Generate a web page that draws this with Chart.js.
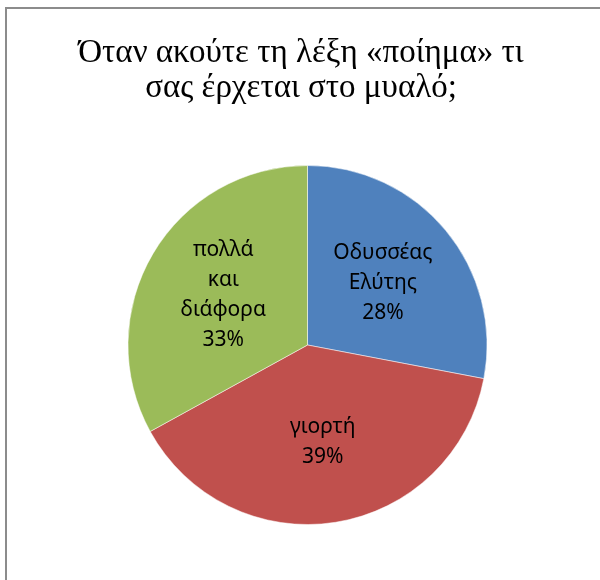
<!DOCTYPE html>
<html>
<head>
<meta charset="utf-8">
<script src="https://cdn.jsdelivr.net/npm/chart.js@4.4.1/dist/chart.umd.min.js"></script>
<style>
  html, body { margin: 0; padding: 0; background: #fff; overflow: hidden; }
  #frame {
    position: absolute; left: 5px; top: 7px;
    width: 640px; height: 640px;
    border: 2px solid #8c8c8c;
  }
  #wrap { position: absolute; left: 0; top: 0; width: 600px; height: 580px; }
</style>
</head>
<body>
<div id="frame"></div>
<div id="wrap"><canvas id="pie" width="600" height="580"></canvas></div>
<script>
const titleLines = ["Όταν ακούτε τη λέξη «ποίημα» τι", "σας έρχεται στο μυαλό;"];
const categories = ["Οδυσσέας Ελύτης", "γιορτή", "πολλά και διάφορα"];
const labelLines = [["Οδυσσέας", "Ελύτης"], ["γιορτή"], ["πολλά", "και", "διάφορα"]];
const values = [28, 39, 33];
const colors = ["#4F81BD", "#C0504D", "#9BBB59"];

// title drawn by hand so it can sit a little left of the pie centre
const chartTitle = {
  id: "chartTitle",
  afterDraw(chart) {
    const ctx = chart.ctx;
    ctx.save();
    ctx.font = "33px 'Liberation Serif'";
    ctx.fillStyle = "#000";
    ctx.textAlign = "center";
    ctx.textBaseline = "alphabetic";
    titleLines.forEach((t, i) => ctx.fillText(t, 301, 62 + i * 35));
    ctx.restore();
  }
};

// writes category name + percentage inside each slice
const sliceLabels = {
  id: "sliceLabels",
  afterDatasetsDraw(chart) {
    const ctx = chart.ctx;
    const meta = chart.getDatasetMeta(0);
    const total = values.reduce((a, b) => a + b, 0);
    ctx.save();
    ctx.font = "21px 'Noto Sans'";
    ctx.fillStyle = "#000";
    ctx.textAlign = "center";
    ctx.textBaseline = "middle";
    meta.data.forEach((arc, i) => {
      const p = arc.getProps(["x", "y", "startAngle", "endAngle", "outerRadius"], true);
      const mid = (p.startAngle + p.endAngle) / 2;
      const r = p.outerRadius * 0.545;
      const cx = p.x + Math.cos(mid) * r;
      const cy = p.y + Math.sin(mid) * r;
      const lines = labelLines[i].concat([Math.round(values[i] / total * 100) + "%"]);
      const lh = 30;
      const top = cy - (lines.length - 1) * lh / 2;
      lines.forEach((t, j) => ctx.fillText(t, cx, top + j * lh));
    });
    ctx.restore();
  }
};

new Chart(document.getElementById("pie"), {
  type: "pie",
  data: {
    labels: categories,
    datasets: [{
      data: values,
      backgroundColor: colors,
      borderColor: "#ffffff",
      borderWidth: 0.5,
      hoverOffset: 0
    }]
  },
  options: {
    responsive: false,
    animation: false,
    radius: 179.5,
    layout: { padding: { left: 15, right: 0, top: 114.5, bottom: 4.5 } },
    plugins: {
      legend: { display: false },
      tooltip: { enabled: false },
      title: { display: false }
    }
  },
  plugins: [chartTitle, sliceLabels]
});
</script>
</body>
</html>
